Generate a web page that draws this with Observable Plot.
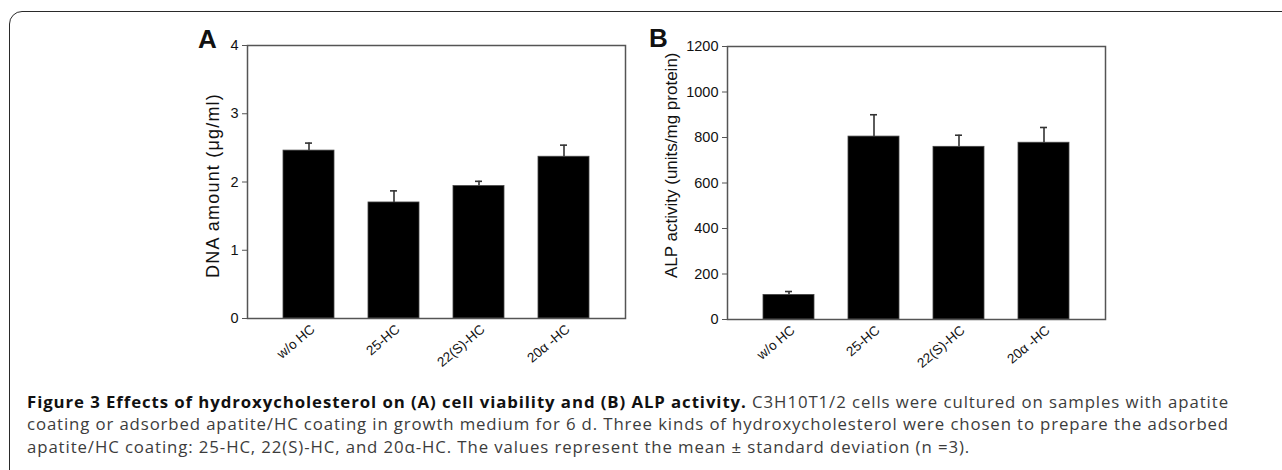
<!DOCTYPE html>
<html>
<head>
<meta charset="utf-8">
<script src="https://cdn.jsdelivr.net/npm/d3@7"></script>
<script src="https://cdn.jsdelivr.net/npm/@observablehq/plot@0.6"></script>
<style>
  html, body { margin: 0; padding: 0; background: #fff; }
  body { width: 1282px; height: 470px; position: relative; overflow: hidden; }
  #frame { position: absolute; left: 9px; top: 11px; width: 1300px; height: 500px;
           border: 1.6px solid #2a2a2a; border-top-left-radius: 13px; box-sizing: border-box; }
  .panel { position: absolute; }
  .letter { position: absolute; font-family: "Liberation Sans", Arial, sans-serif; font-weight: bold; font-size: 26px; line-height: 26px; color: #111; }
  .ytitle { position: absolute; font-family: "Liberation Sans", Arial, sans-serif; font-size: 17px; line-height: 20px;
            white-space: nowrap; transform-origin: 0 0; transform: rotate(-90deg); color: #111; }
  #caption { position: absolute; left: 27px; top: 391px; font-family: "Open Sans", sans-serif; font-size: 16.8px; line-height: 22.3px;
             color: #3c3c3c; white-space: nowrap; }
  #caption .ln { display: block; width: max-content; }
  #caption b { color: #111; font-weight: 700; }
</style>
</head>
<body>
<div id="frame"></div>
<div id="panelA" class="panel" style="left:150px; top:20px;"></div>
<div id="panelB" class="panel" style="left:630px; top:20px;"></div>
<div class="letter" style="left:198px; top:26px;">A</div>
<div class="letter" style="left:649px; top:25px;">B</div>
<div class="ytitle" style="left:203px; top:278px; font-size:18px; letter-spacing:1.2px;">DNA amount (μg/ml)</div>
<div class="ytitle" style="left:662px; top:278px;">ALP activity (units/mg protein)</div>
<div id="caption">
<span class="ln" data-fit="1"><b>Figure 3 Effects of hydroxycholesterol on (A) cell viability and (B) ALP activity.</b> C3H10T1/2 cells were cultured on samples with apatite</span>
<span class="ln" data-fit="1">coating or adsorbed apatite/HC coating in growth medium for 6 d. Three kinds of hydroxycholesterol were chosen to prepare the adsorbed</span>
<span class="ln">apatite/HC coating: 25-HC, 22(S)-HC, and 20α-HC. The values represent the mean ± standard deviation (n =3).</span>
</div>
<script>
const categories = ["w/o HC", "25-HC", "22(S)-HC", "20α -HC"];
const dnaMean = [2.46, 1.70, 1.94, 2.37];
const dnaSD = [0.11, 0.17, 0.07, 0.17];
const alpMean = [108, 804, 759, 777];
const alpSD = [15, 96, 51, 67];
const dnaTicks = [0, 1, 2, 3, 4];
const alpTicks = [0, 200, 400, 600, 800, 1000, 1200];

function panel(means, sds, yDomain, yTicks, opts) {
  const data = categories.map((c, i) => ({c, m: means[i], top: means[i] + sds[i]}));
  return Plot.plot({
    width: 500,
    height: opts.height,
    marginLeft: 97,
    marginRight: 25,
    marginTop: opts.marginTop,
    marginBottom: 60,
    style: {fontFamily: "'Liberation Sans', Arial, sans-serif", color: "#111", background: "#fff"},
    x: {domain: categories, padding: 0.4, label: null},
    y: {domain: yDomain, label: null},
    marks: [
      Plot.ruleX(data, {x: "c", y1: "m", y2: "top", stroke: "#333", strokeWidth: 1.6}),
      Plot.tickY(data, {x: "c", y: "top", stroke: "#333", strokeWidth: 1.6, insetLeft: 22, insetRight: 22}),
      Plot.barY(data, {x: "c", y: "m", fill: "#000", stroke: "#444", strokeWidth: 0.8}),
      Plot.frame({stroke: "#555", strokeWidth: 1.5}),
      Plot.axisY({ticks: yTicks, tickFormat: (d) => String(d), tickSize: 5, tickPadding: 4, label: null, stroke: "#555", fontSize: 14.5}),
      Plot.axisX({tickSize: 0, tickPadding: 7, tickRotate: -40, label: null, fontSize: 13.5, dx: 4, dy: 2})
    ]
  });
}

document.getElementById("panelA").append(panel(dnaMean, dnaSD, [0, 4], dnaTicks, {height: 358, marginTop: 25}));
document.getElementById("panelB").append(panel(alpMean, alpSD, [0, 1200], alpTicks, {height: 359, marginTop: 26}));

// fit justified caption lines to the reference line width
const target = 1202;
const lines = Array.from(document.querySelectorAll("#caption .ln"));
let spacings = [];
lines.forEach((ln) => {
  if (ln.dataset.fit) {
    const w = ln.getBoundingClientRect().width;
    const n = ln.textContent.length;
    const ls = (target - w) / n;
    ln.style.letterSpacing = ls + "px";
    spacings.push(ls);
  }
});
const avg = spacings.reduce((a, b) => a + b, 0) / spacings.length;
lines.forEach((ln) => { if (!ln.dataset.fit) ln.style.letterSpacing = avg + "px"; });
</script>
</body>
</html>
